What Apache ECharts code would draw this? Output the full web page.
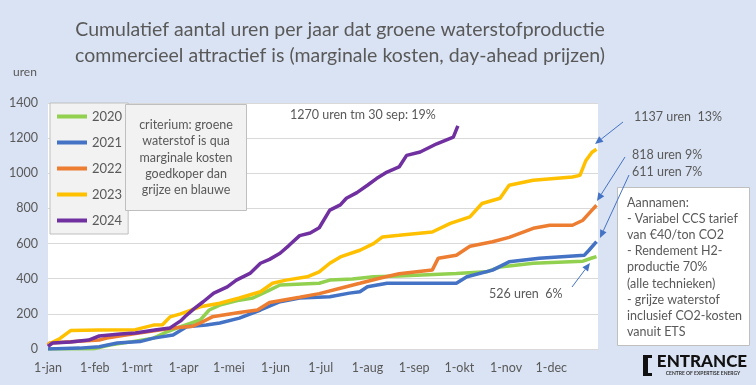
<!DOCTYPE html>
<html>
<head>
<meta charset="utf-8">
<script src="https://cdn.jsdelivr.net/npm/echarts@6/dist/echarts.min.js"></script>
<style>
html,body{margin:0;padding:0;background:#dae3f3;}
#c{width:756px;height:385px;}
</style>
</head>
<body>
<div id="c"></div>
<script>
// Month tick positions (day of year) and labels
const monthDays = [0,31,59,90,120,151,181,212,243,273,304,334];
const monthLabels = ['1-jan','1-feb','1-mrt','1-apr','1-mei','1-jun','1-jul','1-aug','1-sep','1-okt','1-nov','1-dec'];
const yTicks = [0,200,400,600,800,1000,1200,1400];

// 2020
const d2020 = [0,31,41,56,70,79,88,101,107,114,127,136,147,154,180,187,202,216,233,271,291,300,322,355,361,364];
const v2020 = [0,2,23,42,62,98,127,165,222,250,278,290,335,364,374,392,398,411,416,430,439,467,488,500,518,526];
// 2021
const d2021 = [0,21,34,46,61,70,83,92,105,114,127,141,154,167,187,200,207,212,225,271,278,295,306,326,356,359,364];
const v2021 = [0,5,13,34,42,62,80,127,136,148,176,222,269,290,297,318,326,354,374,374,411,449,496,517,534,562,611];
// 2022
const d2022 = [0,1,34,39,56,66,83,96,101,109,127,139,147,167,180,194,207,220,233,255,259,271,280,295,306,322,333,348,355,361,364];
const v2022 = [22,34,51,62,85,98,119,130,148,183,208,222,265,295,315,346,374,403,428,449,517,534,585,610,635,687,704,704,733,790,818];
// 2023
const d2023 = [0,8,15,34,58,70,76,81,88,101,114,127,141,149,158,172,180,187,194,207,216,222,233,255,267,280,288,300,306,322,348,353,357,361,364];
const v2023 = [25,60,105,108,110,136,138,183,200,240,260,290,326,374,392,411,439,488,524,562,600,638,647,666,715,752,828,858,932,960,979,988,1073,1120,1137];
// 2024
const d2024 = [0,3,15,27,34,48,58,71,81,88,91,97,103,110,119,125,134,141,147,154,160,167,174,180,187,194,198,205,212,218,225,233,238,247,258,269,272];
const v2024 = [15,34,40,51,74,85,91,108,120,160,185,230,269,318,354,392,430,488,510,545,590,645,660,690,790,820,858,890,932,970,1007,1036,1102,1121,1168,1206,1270];

const years = ['2020','2021','2022','2023','2024'];
const colors = ['#92d050','#4472c4','#ed7d31','#ffc000','#7030a0'];
const dayArr = [d2020,d2021,d2022,d2023,d2024];
const valArr = [v2020,v2021,v2022,v2023,v2024];

const FONT = 'Lato, "Liberation Sans", sans-serif';
const TXT = '#595959';

function zip(a,b){ return a.map((x,i)=>[x,b[i]]); }

function arrow(x1,y1,x2,y2){
  const a = Math.atan2(y2-y1,x2-x1), L=8, W=3.5;
  const bx = x2-L*Math.cos(a), by = y2-L*Math.sin(a);
  const px = -Math.sin(a)*W, py = Math.cos(a)*W;
  return [
    {type:'line', z:10, shape:{x1:x1,y1:y1,x2:bx,y2:by}, style:{stroke:'#4472c4',lineWidth:1}},
    {type:'polygon', z:10, shape:{points:[[x2,y2],[bx+px,by+py],[bx-px,by-py]]}, style:{fill:'#4472c4'}}
  ];
}
function txt(t,x,y,size,align,extra){
  return Object.assign({type:'text', z:10, style:{text:t, x:x, y:y, fill:TXT, font: size+'px '+FONT, textAlign:align||'left', textVerticalAlign:'middle'}}, extra||{});
}

const graphics = [];
graphics.push(txt('Cumulatief aantal uren per jaar dat groene waterstofproductie',340,30,19.5,'center'));
graphics.push(txt('commercieel attractief is (marginale kosten, day-ahead prijzen)',340,56,19.5,'center'));
graphics.push(txt('uren',13,72,12,'left'));
// criterion box
graphics.push({type:'rect', z:9, shape:{x:125.5,y:104.5,width:121,height:106}, style:{fill:'#f2f2f2',stroke:'#bfbfbf',lineWidth:1}});
['criterium: groene','waterstof is qua','marginale kosten','goedkoper dan','grijze en blauwe'].forEach((t,i)=>{
  graphics.push(txt(t,186,125+i*16.3,12.5,'center'));
});
// assumptions box
graphics.push({type:'rect', z:9, shape:{x:617.5,y:187.5,width:132,height:158}, style:{fill:'#ffffff',stroke:'#bfbfbf',lineWidth:1}});
['Aannamen:','- Variabel CCS tarief','van €40/ton CO2','- Rendement H2-','productie 70%','(alle technieken)','- grijze waterstof','inclusief CO2-kosten','vanuit ETS'].forEach((t,i)=>{
  graphics.push(txt(t,627,203+i*16.1,12.5,'left'));
});
// annotations
graphics.push(txt('1270 uren tm 30 sep: 19%',290,115,12.5,'left'));
graphics.push(txt('1137 uren  13%',634,117,12.5,'left'));
graphics.push(txt('818 uren 9%',632,155,12.5,'left'));
graphics.push(txt('611 uren 7%',632,172,12.5,'left'));
graphics.push(txt('526 uren  6%',489,294,12.5,'left'));
graphics.push(...arrow(623,122,595,144));
graphics.push(...arrow(625,157,597,201));
graphics.push(...arrow(629,175,600,238));
graphics.push(...arrow(572,287,590,263));
// logo
graphics.push({type:'polygon', z:10, shape:{points:[[643,355],[652,355],[652,358],[648,358],[648,373],[652,373],[652,376],[643,376]]}, style:{fill:'#111'}});
graphics.push({type:'text', z:10, style:{text:'ENTRANCE', x:702, y:362, fill:'#111', font:'900 17px '+FONT, textAlign:'center', textVerticalAlign:'middle'}});
graphics.push({type:'text', z:10, style:{text:'CENTRE OF EXPERTISE ENERGY', x:703, y:373.5, fill:'#333', font:'bold 5px '+FONT, textAlign:'center', textVerticalAlign:'middle'}});

const chart = echarts.init(document.getElementById('c'), null, {renderer:'canvas'});
chart.setOption({
  backgroundColor:'#dae3f3',
  animation:false,
  textStyle:{fontFamily:FONT},
  grid:{left:48,right:158,top:103,bottom:36,show:true,backgroundColor:'#ffffff',borderWidth:0},
  legend:{
    data:years, orient:'vertical', left:50, top:103,
    icon:'rect', itemWidth:30, itemHeight:4, itemGap:13,
    padding:[7,6,7,7], backgroundColor:'#f2f2f2', borderColor:'#bfbfbf', borderWidth:1,
    textStyle:{fontSize:13, color:TXT, fontFamily:FONT}
  },
  xAxis:{
    type:'value', min:0, max:365,
    axisLine:{show:true, lineStyle:{color:'#d9d9d9'}},
    axisTick:{show:false},
    splitLine:{show:false},
    axisLabel:{customValues:monthDays, color:TXT, fontSize:12.5, margin:12,
      formatter:function(v){ const i=monthDays.indexOf(v); return i>=0?monthLabels[i]:''; }}
  },
  yAxis:{
    type:'value', min:0, max:1400, interval:200,
    axisLine:{show:false}, axisTick:{show:false},
    splitLine:{lineStyle:{color:'#d9d9d9',width:1}},
    axisLabel:{color:TXT, fontSize:12.5, margin:10, formatter:function(v){ return String(v); }}
  },
  series: years.map((y,i)=>({
    name:y, type:'line', showSymbol:false, symbol:'none',
    data: zip(dayArr[i], valArr[i]),
    lineStyle:{width:3.5, color:colors[i]}, itemStyle:{color:colors[i]},
    z: 2+i
  })),
  graphic: graphics
});
</script>
</body>
</html>
